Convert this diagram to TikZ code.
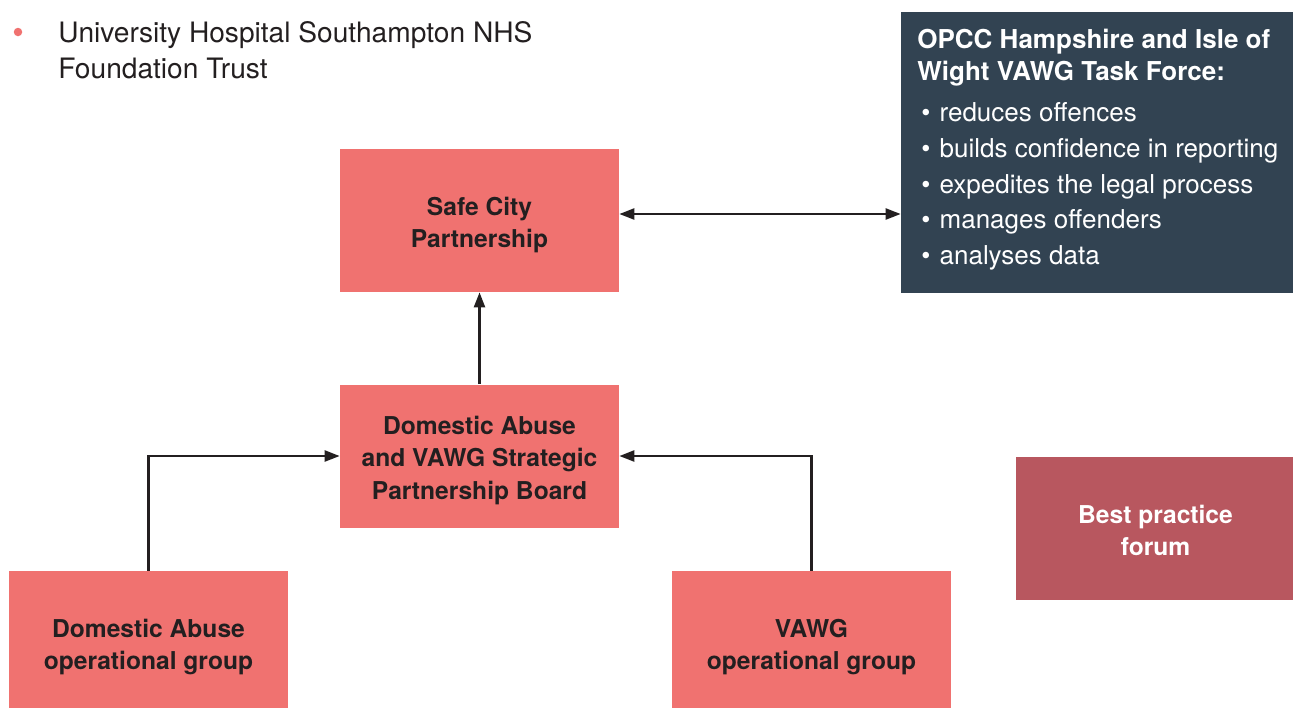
\documentclass[tikz,border=0pt]{standalone}
\usepackage{fontspec}
\setmainfont{TeX Gyre Heros}
\usetikzlibrary{arrows.meta, positioning, calc}

\definecolor{salmon}{HTML}{F07270}
\definecolor{slate}{HTML}{324352}
\definecolor{rose}{HTML}{B8575F}
\definecolor{ink}{HTML}{231F20}

\newcommand{\taskitem}[1]{\hspace{2.3pt}\textbullet\hspace{5.2pt}#1}
\newcommand{\boxlines}[1]{\raisebox{-0.09cm}[\height][\depth]{\begin{tabular}{@{}c@{}}#1\end{tabular}}}

\begin{document}
\begin{tikzpicture}[
    >={Triangle[length=0.3cm, width=0.22cm]},
    box/.style={rectangle, fill=salmon, minimum width=5.58cm, minimum height=2.86cm, text=ink, font=\fontsize{14}{18.4}\selectfont\bfseries},
    link/.style={draw=ink, line width=1.4pt}
]
\useasboundingbox (0,0) rectangle (25.86,-14.14);

        % ------------------ Heading ------------------

        \node[circle, fill=salmon, inner sep=0pt, minimum size=0.17cm] (dot) at (0.36,-0.64) {};
        \node[anchor=west, align=left, inner sep=0pt, text=ink, font=\fontsize{16}{20.4}\selectfont] (uhs) at (1.16,-1.0) {University Hospital Southampton NHS\\Foundation Trust};

        % ------------------ Partnership boxes ------------------

        \node[box] (safe) at (9.59,-4.41) {\boxlines{Safe City\\Partnership}};
        \node[box] (board) at (9.59,-9.12) {\boxlines{Domestic Abuse\\and VAWG Strategic\\Partnership Board}};
        \node[box] (daop) at (2.97,-12.85) {\boxlines{Domestic Abuse\\operational group}};
        \node[box] (vawgop) at (16.23,-12.85) {\boxlines{VAWG\\operational group}};

        % Forum
        \node[box, fill=rose, text=white] (forum) at (23.11,-10.57) {\boxlines{Best practice\\forum}};

        % Task force
        \node[rectangle, fill=slate, minimum width=7.98cm, minimum height=5.62cm] (task) at (22.01,-3.05) {};
        \node[anchor=north west, align=left, inner sep=0pt, text=white, font=\fontsize{14.8}{18.1}\selectfont] (taskText) at (18.34,-0.58) {\textbf{OPCC Hampshire and Isle of}\\\textbf{Wight VAWG Task Force:}\\[5.1pt]
            \taskitem{reduces offences}\\[2.3pt]
            \taskitem{builds confidence in reporting}\\[2.3pt]
            \taskitem{expedites the legal process}\\[2.3pt]
            \taskitem{manages offenders}\\[2.3pt]
            \taskitem{analyses data}};

        % Arrows
        \draw[link, <->] ([yshift=0.13cm]safe.east) -- ([yshift=0.13cm]safe.east -| task.west);
        \draw[link, ->] (board) -- (safe);
        \draw[link, ->] (daop.north) |- (board.west);
        \draw[link, ->] (vawgop.north) |- (board.east);

\end{tikzpicture}
\end{document}
